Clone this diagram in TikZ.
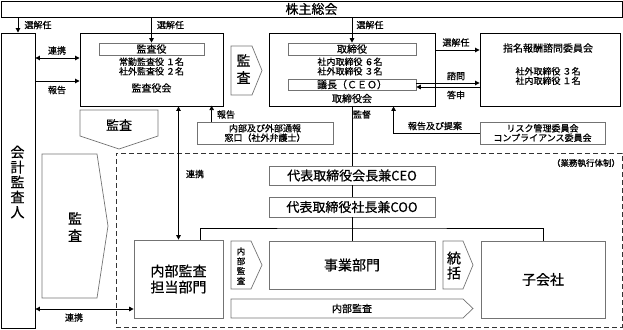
\documentclass[tikz,border=0pt]{standalone}
\usepackage{fontspec}
\setmainfont{Noto Sans CJK JP}[FakeBold=0.6]
\usetikzlibrary{arrows.meta,calc}
\newcommand\myfs[2]{\fontsize{#1}{#2}\selectfont}
\begin{document}
\begin{tikzpicture}[x=1pt,y=-1pt,
  mainbox/.style={draw=black,line width=0.9pt,inner sep=0pt,fill=white},
  subbox/.style={draw=black!55,line width=0.7pt,inner sep=0pt,fill=white},
  penta/.style={draw=black!55,line width=0.7pt},
  arr/.style={line width=0.9pt,-{Triangle[length=4.5pt,width=4.5pt]}},
  darr/.style={line width=0.9pt,{Triangle[length=4.5pt,width=4.5pt]}-{Triangle[length=4.5pt,width=4.5pt]}},
  ln/.style={line width=0.9pt},
  lbl/.style={font=\myfs{9}{10},inner sep=0pt},
  sm/.style={font=\myfs{9}{9.5},inner sep=0pt,align=center},
  mid/.style={font=\myfs{10}{11},inner sep=0pt,align=center},
  big/.style={font=\myfs{14}{16},inner sep=0pt,align=center},
]
\useasboundingbox (0,0) rectangle (623,329);
% top bar
\node[mainbox,minimum width=621pt,minimum height=16pt,font=\myfs{13}{14}] (kabu) at (311.5,9) {株主総会};
% auditor
\node[mainbox,minimum width=34pt,minimum height=295pt] (kaikei) at (18,180.5) {};
\node[font=\myfs{14}{15},inner sep=0pt,align=center] (kaikeit) at (17.5,182) {会\\計\\監\\査\\人};
% kansayakukai
\node[mainbox,minimum width=143pt,minimum height=73pt] (kansakai) at (151.5,69.5) {};
\node[subbox,minimum width=105pt,minimum height=12pt,mid] (kansayaku) at (151.5,49) {監査役};
\node[sm] (kansamem) at (151.5,66.5) {常勤監査役\ １名\\社外監査役\ ２名};
\node[mid] (kansakait) at (151.5,88) {監査役会};
% right pentagon kansa
\draw[penta] (231,46) -- (252,46) -- (262,70.5) -- (252,95) -- (231,95) -- cycle;
\node[font=\myfs{14}{17},inner sep=0pt,align=center] (kansaR) at (243.5,69) {監\\査};
% torishimariyakukai
\node[mainbox,minimum width=166pt,minimum height=73pt] (torikai) at (352,69.5) {};
\node[subbox,minimum width=128pt,minimum height=12pt,mid] (torishimari) at (352,49) {取締役};
\node[sm] (torimem) at (350,66.5) {社内取締役\ ６名\\社外取締役\ ３名};
\node[subbox,minimum width=128pt,minimum height=11pt,mid] (gicho) at (352,84.5) {議長（ＣＥＯ）};
\node[mid] (torikait) at (352,98.5) {取締役会};
% shimei
\node[mainbox,minimum width=140pt,minimum height=73pt] (shimei) at (550,69.5) {};
\node[mid] (shimeit) at (548,48) {指名報酬諮問委員会};
\node[sm] (shimeimem) at (548,76) {社外取締役\ ３名\\社内取締役\ １名};
% risk
\node[subbox,minimum width=125pt,minimum height=22pt,sm] (risk) at (542.5,133) {リスク管理委員会\\コンプライアンス委員会};
% tsuho
\node[subbox,minimum width=136pt,minimum height=22pt,sm] (tsuho) at (265,133) {内部及び外部通報\\窓口（社外弁護士）};
% down pentagon kansa
\draw[penta] (80,110) -- (158,110) -- (158,136) -- (119,149) -- (80,136) -- cycle;
\node[font=\myfs{13}{14},inner sep=0pt] (kansaD) at (119,125) {監査};
% left tall pentagon
\draw[penta] (42,154) -- (97,154) -- (108,226) -- (97,298) -- (42,298) -- cycle;
\node[font=\myfs{14}{17},inner sep=0pt,align=center] (kansaL) at (75,227) {監\\査};
% dashed frame
\node[draw=black!80,dashed,dash pattern=on 5pt off 3pt,line width=0.9pt,minimum width=506pt,minimum height=174pt,inner sep=0pt] (gyomu) at (369,240) {};
\node[lbl,font=\myfs{8.5}{9}] (gyomut) at (586,163) {（業務執行体制）};
% CEO / COO
\node[subbox,minimum width=166pt,minimum height=19pt,font=\myfs{13}{14}] (ceo) at (352,175.5) {代表取締役会長兼CEO};
\node[subbox,minimum width=166pt,minimum height=20pt,font=\myfs{13}{14}] (coo) at (352,207) {代表取締役社長兼COO};
% lower boxes
\node[subbox,minimum width=89pt,minimum height=78pt,big] (naibu) at (178.5,279) {内部監査\\担当部門};
\draw[penta] (231,241) -- (251,241) -- (262,265) -- (251,289) -- (231,289) -- cycle;
\node[font=\myfs{8.5}{9.8},inner sep=0pt,align=center] (naibuS) at (241,266) {内\\部\\監\\査};
\node[subbox,minimum width=166pt,minimum height=48pt,big] (jigyo) at (352,265) {事業部門};
\draw[penta] (443,241) -- (463,241) -- (473,265) -- (463,289) -- (443,289) -- cycle;
\node[font=\myfs{14}{15},inner sep=0pt,align=center] (tokatsu) at (454,265.5) {統\\括};
\node[subbox,minimum width=124pt,minimum height=77pt,big] (kogaisha) at (543,279.5) {子会社};
\draw[penta] (231,299) -- (463,299) -- (473,308.5) -- (463,318) -- (231,318) -- cycle;
\node[mid] (naibuL) at (352,308.5) {内部監査};
% connectors
\draw[arr] (kabu.south -| kaikei.north) -- (kaikei.north);
\node[lbl] (l1) at (38,25) {選解任};
\draw[arr] (kabu.south -| kansayaku.north) -- (kansayaku.north);
\node[lbl] (l2) at (170.5,25) {選解任};
\draw[arr] (kabu.south -| torishimari.north) -- (torishimari.north);
\node[lbl] (l3) at (370,25) {選解任};
\draw[darr] (kaikei.east |- 0,58) -- (kansakai.west |- 0,58);
\node[lbl] (l4) at (57,50.5) {連携};
\draw[arr] (kaikei.east |- 0,81) -- (kansakai.west |- 0,81);
\node[lbl] (l5) at (57,90) {報告};
\draw[arr] (torikai.east |- 0,50) -- (shimei.west |- 0,50);
\node[lbl] (l6) at (456,42.5) {選解任};
\draw[arr] (gicho.east |- 0,83) -- (shimei.west |- 0,83);
\node[lbl] (l7) at (456,76) {諮問};
\draw[arr] (shimei.west |- 0,87) -- (gicho.east |- 0,87);
\node[lbl] (l8) at (456,95) {答申};
\draw[ln] (torikai.south) -- (ceo.north);
\draw[ln] (ceo.south) -- (coo.north);
\node[lbl] (l9) at (362,114.5) {監督};
\draw[arr] (risk.west) -| ($(torikai.south west)+(125,0)$);
\node[lbl] (l10) at (435,126) {報告及び提案};
\draw[arr] ($(tsuho.north west)+(15,0)$) -- ($(tsuho.north west)+(15,-16)$);
\node[lbl] (l11) at (226,114.5) {報告};
\draw[darr] (kansakai.south -| naibu.north) -- (naibu.north);
\node[lbl] (l12) at (195,174) {連携};
\coordinate (br) at (coo.south |- 0,228);
\draw[ln] (coo.south) -- (br);
\draw[ln] ($(naibu.north west)+(67,0)$) |- (br) -| (kogaisha.north);
\draw[ln] (br) -- (jigyo.north);
\draw[darr] (kaikei.east |- 0,309) -- (naibu.west |- 0,309);
\node[lbl] (l13) at (74,317.5) {連携};
\end{tikzpicture}
\end{document}
